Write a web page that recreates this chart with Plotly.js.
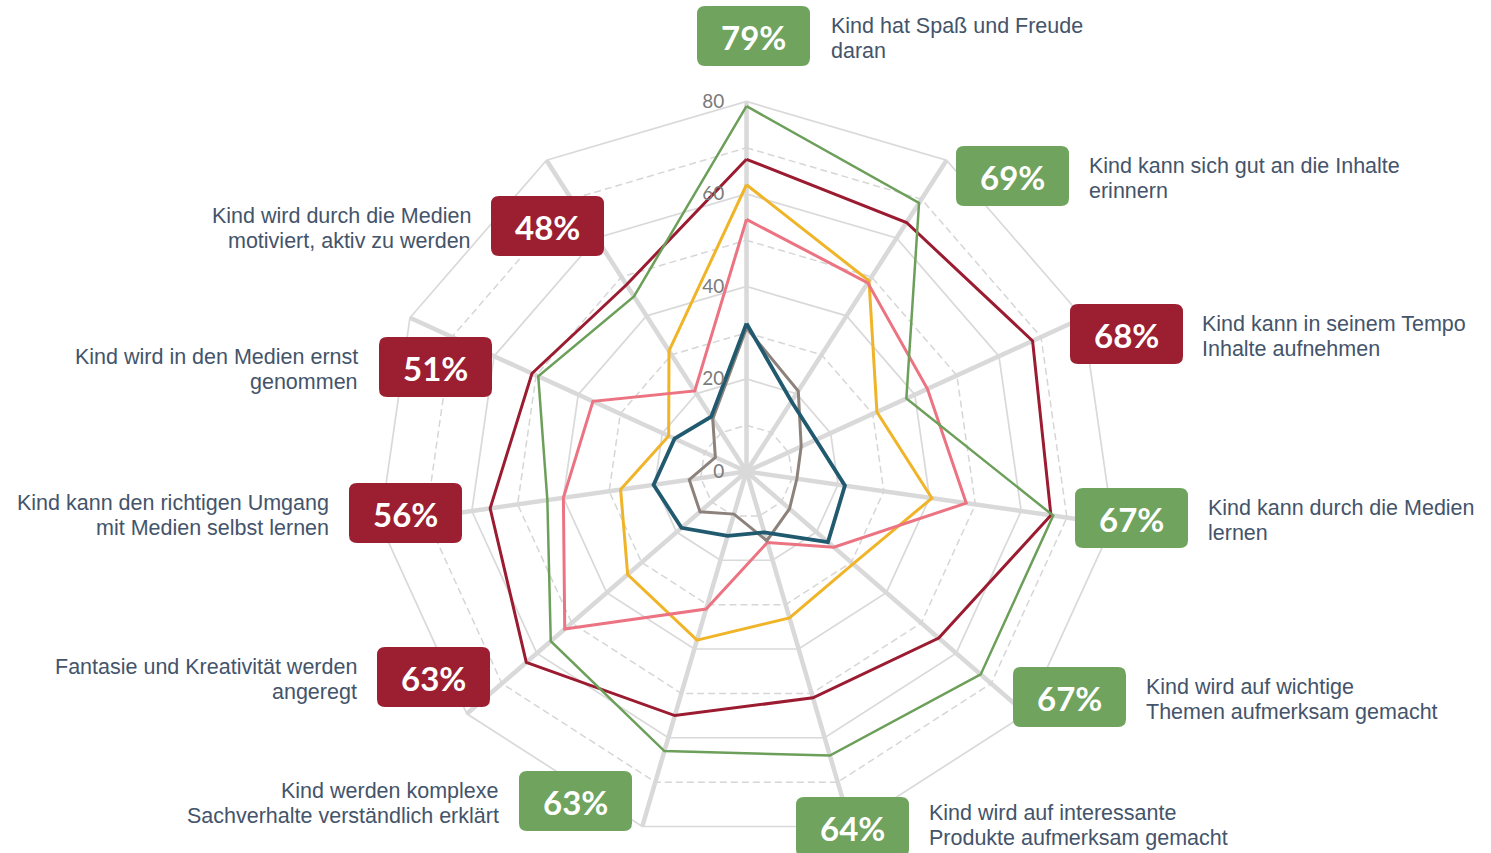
<!DOCTYPE html>
<html>
<head>
<meta charset="utf-8">
<script src="https://cdn.plot.ly/plotly-3.0.1.min.js"></script>
<style>
html,body{margin:0;padding:0;background:#fff;}
#chart{width:1491px;height:853px;}
</style>
</head>
<body>
<div id="chart"></div>
<script>
// ---------- DATA ----------
var categories = [
  "Kind hat Spaß und Freude daran",
  "Kind kann sich gut an die Inhalte erinnern",
  "Kind kann in seinem Tempo Inhalte aufnehmen",
  "Kind kann durch die Medien lernen",
  "Kind wird auf wichtige Themen aufmerksam gemacht",
  "Kind wird auf interessante Produkte aufmerksam gemacht",
  "Kind werden komplexe Sachverhalte verständlich erklärt",
  "Fantasie und Kreativität werden angeregt",
  "Kind kann den richtigen Umgang mit Medien selbst lernen",
  "Kind wird in den Medien ernst genommen",
  "Kind wird durch die Medien motiviert, aktiv zu werden"
];
var categoryLine1 = [
  "Kind hat Spaß und Freude",
  "Kind kann sich gut an die Inhalte",
  "Kind kann in seinem Tempo",
  "Kind kann durch die Medien",
  "Kind wird auf wichtige",
  "Kind wird auf interessante",
  "Kind werden komplexe",
  "Fantasie und Kreativität werden",
  "Kind kann den richtigen Umgang",
  "Kind wird in den Medien ernst",
  "Kind wird durch die Medien"
];
var categoryLine2 = [
  "daran",
  "erinnern",
  "Inhalte aufnehmen",
  "lernen",
  "Themen aufmerksam gemacht",
  "Produkte aufmerksam gemacht",
  "Sachverhalte verständlich erklärt",
  "angeregt",
  "mit Medien selbst lernen",
  "genommen",
  "motiviert, aktiv zu werden"
];
var seriesGreen  = [79, 69, 38, 67, 67, 64, 63, 56, 43.5, 49.5, 45];
var seriesRed    = [67.5, 64, 68, 66.5, 55, 51, 55, 63, 56, 51, 48];
var seriesYellow = [62, 49, 31, 40.5, 30.5, 33, 38, 34, 27.5, 18.5, 31];
var seriesPink   = [54.5, 48.5, 43, 48, 25, 16, 31, 52, 40, 36.5, 20.7];
var seriesTeal   = [32, 18, 16.5, 21.5, 23.3, 13.7, 14.5, 18.6, 20.3, 17.1, 14.1];
var seriesGrey   = [31, 20.7, 13, 11, 12.3, 15.6, 9.6, 13.3, 12.5, 7.4, 13.5];
var radialTicks  = [0, 20, 40, 60, 80];
var dashedRings  = [10, 30, 50, 70];

// ---------- STYLE / LAYOUT ----------
var W = 1491, H = 853;
var cx = 746.5, cy = 471.5, R = 370;
var COL = {
  green: "#6c9f59", red: "#9b1c31", yellow: "#f0b429",
  pink: "#ec7381", teal: "#215a6f", grey: "#8c827b",
  boxGreen: "#6fa35e", boxRed: "#9b1e31", text: "#44546a", grid: "#d9d9d9"
};

// label placement (pixel coords): box left, top, text x, side, text vertical shift
var labelPos = [
  {bx: 697, by: 6,   tx: 829,  side: "r", dy: 2.5},
  {bx: 956, by: 146, tx: 1087, side: "r", dy: 2.5},
  {bx: 1070,by: 304, tx: 1200, side: "r", dy: 2.5},
  {bx: 1075,by: 488, tx: 1206, side: "r", dy: 2.5},
  {bx: 1013,by: 667, tx: 1144, side: "r", dy: 2.5},
  {bx: 796, by: 797, tx: 927,  side: "r", dy: -1.5},
  {bx: 519, by: 771, tx: 501,  side: "l", dy: 2.5},
  {bx: 377, by: 647, tx: 359,  side: "l", dy: 2.5},
  {bx: 349, by: 483, tx: 331,  side: "l", dy: 2.5},
  {bx: 379, by: 337, tx: 360,  side: "l", dy: 2.5},
  {bx: 491, by: 196, tx: 473,  side: "l", dy: 2.5}
];
var boxW = 113, boxH = 60, rad = 8, lineGap = 25;

function px(x){ return x / W; }
function py(y){ return 1 - y / H; }
function rrect(x0, y0, x1, y1, r){
  function P(x, y){ return px(x).toFixed(5) + "," + py(y).toFixed(5); }
  return "M" + P(x0 + r, y0) + " L" + P(x1 - r, y0) + " Q" + P(x1, y0) + " " + P(x1, y0 + r) +
         " L" + P(x1, y1 - r) + " Q" + P(x1, y1) + " " + P(x1 - r, y1) +
         " L" + P(x0 + r, y1) + " Q" + P(x0, y1) + " " + P(x0, y1 - r) +
         " L" + P(x0, y0 + r) + " Q" + P(x0, y0) + " " + P(x0 + r, y0) + " Z";
}

var closedTheta = categories.concat([categories[0]]);
function closed(arr){ return arr.concat([arr[0]]); }

var traces = [];
dashedRings.forEach(function(v){
  traces.push({
    type: "scatterpolar", mode: "lines",
    r: closedTheta.map(function(){ return v; }), theta: closedTheta,
    line: {color: "#d6d6d6", width: 1.5, dash: "7px,4px"},
    hoverinfo: "skip", showlegend: false
  });
});
function series(vals, color, width){
  return {
    type: "scatterpolar", mode: "lines",
    r: closed(vals), theta: closedTheta,
    line: {color: color, width: width},
    hoverinfo: "skip", showlegend: false
  };
}
traces.push(series(seriesYellow, COL.yellow, 3));
traces.push(series(seriesPink, COL.pink, 3));
traces.push(series(seriesRed, COL.red, 3));
traces.push(series(seriesGreen, COL.green, 2.5));
traces.push(series(seriesGrey, COL.grey, 3));
traces.push(series(seriesTeal, COL.teal, 3.8));

var shapes = [], annotations = [];
var textFont = {family: "Liberation Sans, Arial, sans-serif", size: 21.5, color: COL.text};
categories.forEach(function(c, i){
  var g = seriesGreen[i], r = seriesRed[i];
  var top = Math.max(g, r);
  var color = g >= r ? COL.boxGreen : COL.boxRed;
  var p = labelPos[i];
  var mid = p.by + boxH / 2;
  shapes.push({
    type: "path", xref: "paper", yref: "paper",
    path: rrect(p.bx, p.by, p.bx + boxW, p.by + boxH, rad),
    fillcolor: color, line: {width: 0}, layer: "above"
  });
  annotations.push({
    xref: "paper", yref: "paper",
    x: px(p.bx + boxW / 2), y: py(mid + 1),
    xanchor: "center", yanchor: "middle", showarrow: false,
    text: "<b>" + Math.round(top) + "%</b>",
    font: {family: "Lato, 'Open Sans', sans-serif", size: 33, color: "#ffffff"}
  });
  [categoryLine1[i], categoryLine2[i]].forEach(function(t, k){
    annotations.push({
      xref: "paper", yref: "paper",
      x: px(p.tx), y: py(mid + p.dy + (k === 0 ? -lineGap / 2 : lineGap / 2)),
      xanchor: p.side === "r" ? "left" : "right", yanchor: "middle",
      align: p.side === "r" ? "left" : "right", showarrow: false,
      text: t, font: textFont
    });
  });
});

var layout = {
  width: W, height: H,
  margin: {l: 0, r: 0, t: 0, b: 0},
  paper_bgcolor: "#ffffff",
  showlegend: false,
  hovermode: false,
  polar: {
    domain: {x: [px(cx - R), px(cx + R)], y: [py(cy + R), py(cy - R)]},
    bgcolor: "rgba(0,0,0,0)",
    gridshape: "linear",
    radialaxis: {
      range: [0, 80], tickvals: radialTicks, ticktext: radialTicks.map(String),
      angle: 90, tickangle: 90, side: "counterclockwise",
      showline: false, ticks: "outside", ticklen: 15, tickcolor: "rgba(0,0,0,0)",
      gridcolor: COL.grid, gridwidth: 1.7,
      tickfont: {family: "Lato, 'Open Sans', sans-serif", size: 19, color: "#7a7a7a"}
    },
    angularaxis: {
      type: "category", direction: "clockwise", rotation: 90,
      showticklabels: false, ticks: "",
      showline: true, linecolor: COL.grid, linewidth: 1.7,
      gridcolor: COL.grid, gridwidth: 4.5
    }
  },
  shapes: shapes,
  annotations: annotations
};

Plotly.newPlot("chart", traces, layout, {displayModeBar: false, staticPlot: true});
</script>
</body>
</html>
